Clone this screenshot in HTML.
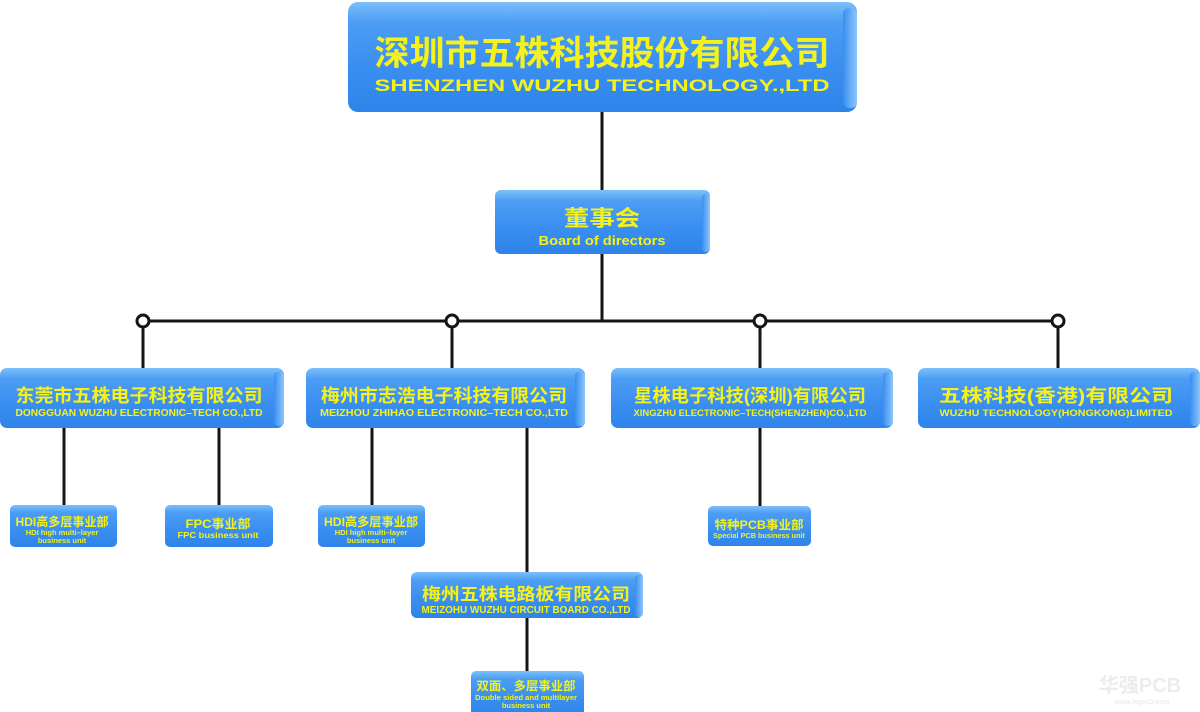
<!DOCTYPE html>
<html><head><meta charset="utf-8"><style>
html,body{margin:0;padding:0;background:#fff;width:1200px;height:712px;overflow:hidden}
svg{display:block}
text{font-family:"Liberation Sans","Noto Sans CJK SC",sans-serif;font-weight:bold;fill:#f4f21a;text-anchor:middle}
</style></head><body>
<svg width="1200" height="712" viewBox="0 0 1200 712" xmlns="http://www.w3.org/2000/svg">
<defs>
<linearGradient id="g" x1="0" y1="0" x2="0" y2="1">
<stop offset="0" stop-color="#7cc0fb"/><stop offset="0.18" stop-color="#4c9df4"/><stop offset="0.6" stop-color="#3a8ef0"/><stop offset="1" stop-color="#2f84ea"/>
</linearGradient>
<linearGradient id="s" x1="0" y1="0" x2="1" y2="0">
<stop offset="0" stop-color="#3a8ef0"/><stop offset="1" stop-color="#8cc6fb"/>
</linearGradient>
</defs>
<g stroke="#151515" stroke-width="3" fill="none">
<line x1="602" y1="110" x2="602" y2="192"/>
<line x1="602" y1="252" x2="602" y2="321"/>
<line x1="143" y1="321" x2="1058" y2="321"/>
<line x1="143" y1="321" x2="143" y2="370"/>
<line x1="452" y1="321" x2="452" y2="370"/>
<line x1="760" y1="321" x2="760" y2="370"/>
<line x1="1058" y1="321" x2="1058" y2="370"/>
<line x1="64" y1="426" x2="64" y2="507"/>
<line x1="219" y1="426" x2="219" y2="507"/>
<line x1="372" y1="426" x2="372" y2="507"/>
<line x1="527" y1="426" x2="527" y2="574"/>
<line x1="527" y1="616" x2="527" y2="673"/>
<line x1="760" y1="426" x2="760" y2="508"/>
</g>
<g fill="#fff" stroke="#151515" stroke-width="3">
<circle cx="143" cy="321" r="6"/><circle cx="452" cy="321" r="6"/><circle cx="760" cy="321" r="6"/><circle cx="1058" cy="321" r="6"/>
</g>
<g>
<!-- boxes -->
<rect x="348" y="2" width="509" height="110" rx="10" fill="url(#g)"/><rect x="843" y="8" width="14" height="100" rx="6" fill="url(#s)"/>
<rect x="495" y="190" width="215" height="64" rx="6" fill="url(#g)"/><rect x="702" y="194" width="8" height="58" rx="4" fill="url(#s)"/>
<rect x="0" y="368" width="284" height="60" rx="7" fill="url(#g)"/><rect x="274" y="372" width="10" height="54" rx="4" fill="url(#s)"/>
<rect x="306" y="368" width="279" height="60" rx="7" fill="url(#g)"/><rect x="575" y="372" width="10" height="54" rx="4" fill="url(#s)"/>
<rect x="611" y="368" width="282" height="60" rx="7" fill="url(#g)"/><rect x="883" y="372" width="10" height="54" rx="4" fill="url(#s)"/>
<rect x="918" y="368" width="282" height="60" rx="7" fill="url(#g)"/><rect x="1190" y="372" width="10" height="54" rx="4" fill="url(#s)"/>
<rect x="10" y="505" width="107" height="42" rx="5" fill="url(#g)"/>
<rect x="165" y="505" width="108" height="42" rx="5" fill="url(#g)"/>
<rect x="318" y="505" width="107" height="42" rx="5" fill="url(#g)"/>
<rect x="708" y="506" width="103" height="40" rx="5" fill="url(#g)"/>
<rect x="411" y="572" width="232" height="46" rx="6" fill="url(#g)"/><rect x="635" y="575" width="8" height="42" rx="4" fill="url(#s)"/>
<rect x="471" y="671" width="113" height="45" rx="5" fill="url(#g)"/>
</g>
<!-- text -->
<text x="602" y="65" font-size="34" textLength="455" lengthAdjust="spacingAndGlyphs">深圳市五株科技股份有限公司</text>
<text x="602" y="91" font-size="17" textLength="455" lengthAdjust="spacingAndGlyphs">SHENZHEN  WUZHU TECHNOLOGY.,LTD</text>
<text x="602" y="226" font-size="22" textLength="76" lengthAdjust="spacingAndGlyphs">董事会</text>
<text x="602" y="245" font-size="13" textLength="127" lengthAdjust="spacingAndGlyphs">Board of directors</text>

<text x="139" y="402" font-size="18" textLength="247" lengthAdjust="spacingAndGlyphs">东莞市五株电子科技有限公司</text>
<text x="139" y="416" font-size="10" textLength="247" lengthAdjust="spacingAndGlyphs">DONGGUAN WUZHU ELECTRONIC–TECH CO.,LTD</text>
<text x="444" y="402" font-size="18" textLength="246" lengthAdjust="spacingAndGlyphs">梅州市志浩电子科技有限公司</text>
<text x="444" y="416" font-size="10" textLength="248" lengthAdjust="spacingAndGlyphs">MEIZHOU ZHIHAO  ELECTRONIC–TECH CO.,LTD</text>
<text x="750" y="402" font-size="18" textLength="232" lengthAdjust="spacingAndGlyphs">星株电子科技(深圳)有限公司</text>
<text x="750" y="416" font-size="9" textLength="233" lengthAdjust="spacingAndGlyphs">XINGZHU ELECTRONIC–TECH(SHENZHEN)CO.,LTD</text>
<text x="1056" y="402" font-size="18" textLength="234" lengthAdjust="spacingAndGlyphs">五株科技(香港)有限公司</text>
<text x="1056" y="416" font-size="9" textLength="233" lengthAdjust="spacingAndGlyphs">WUZHU TECHNOLOGY(HONGKONG)LIMITED</text>

<text x="62" y="526" font-size="12" textLength="93" lengthAdjust="spacingAndGlyphs">HDI高多层事业部</text>
<text x="62" y="535" font-size="7.5">HDI high multi–layer</text>
<text x="62" y="543" font-size="7.5">business unit</text>
<text x="218" y="528" font-size="12" textLength="65" lengthAdjust="spacingAndGlyphs">FPC事业部</text>
<text x="218" y="538" font-size="8" textLength="81" lengthAdjust="spacingAndGlyphs">FPC  business unit</text>
<text x="371" y="526" font-size="12" textLength="94" lengthAdjust="spacingAndGlyphs">HDI高多层事业部</text>
<text x="371" y="535" font-size="7.5">HDI high multi–layer</text>
<text x="371" y="543" font-size="7.5">business unit</text>
<text x="759" y="529" font-size="12" textLength="89" lengthAdjust="spacingAndGlyphs">特种PCB事业部</text>
<text x="759" y="538" font-size="7" textLength="92" lengthAdjust="spacingAndGlyphs">Special PCB business unit</text>

<text x="526" y="600" font-size="17" textLength="208" lengthAdjust="spacingAndGlyphs">梅州五株电路板有限公司</text>
<text x="526" y="613" font-size="10" textLength="209" lengthAdjust="spacingAndGlyphs">MEIZOHU WUZHU CIRCUIT BOARD CO.,LTD</text>
<text x="526" y="690" font-size="12" textLength="99" lengthAdjust="spacingAndGlyphs">双面、多层事业部</text>
<text x="526" y="700" font-size="7.5" textLength="102" lengthAdjust="spacingAndGlyphs">Double sided and multilayer</text>
<text x="526" y="708" font-size="7.5">business unit</text>

<text x="1140" y="692" font-size="20" style="fill:#ececec">华强PCB</text>
<text x="1142" y="704" font-size="7" style="fill:#ececec">www.hqpcb.com</text>
</svg>
</body></html>
